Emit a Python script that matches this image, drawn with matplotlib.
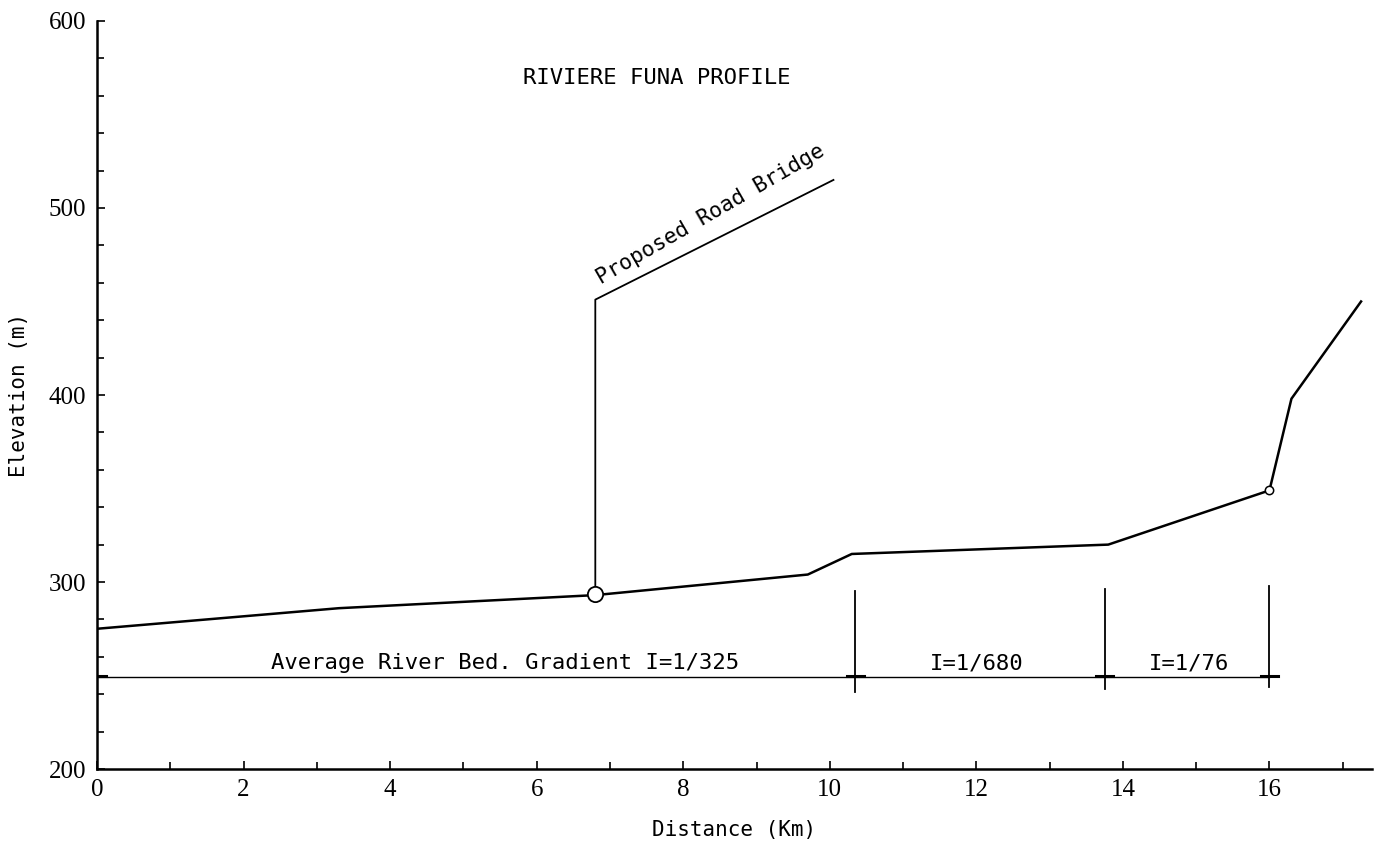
import matplotlib
matplotlib.use("Agg")
import matplotlib.pyplot as plt
from matplotlib.ticker import MultipleLocator

# river bed profile (km, m)
distance_km = [0.0, 3.3, 6.8, 9.7, 10.3, 13.8, 16.0, 16.3, 17.25]
elevation_m = [275, 286, 293, 304, 315, 320, 349, 398, 450]

# proposed bridge location and label leader
bridge_x = 6.8
bridge_y = 293.5
leader_x = [6.8, 6.8, 10.05]
leader_y = [293.5, 451, 515]

# gradient sections
baseline_y = 249
section_x = [0.0, 10.35, 13.75, 16.0]
divider_top = [295, 296, 298]
divider_bottom = [241, 243, 244]
section_labels = ["Average River Bed. Gradient I=1/325", "I=1/680", "I=1/76"]
label_x = [5.57, 12.0, 14.9]
label_y = 256.5

mono = "DejaVu Sans Mono"
serif = "Liberation Serif"

fig = plt.figure(figsize=(13.82, 8.56), dpi=100)
ax = fig.add_axes([0.0702, 0.1016, 0.9226, 0.8739])

ax.plot(distance_km, elevation_m, color="black", lw=1.8)
ax.plot(bridge_x, bridge_y, "o", mfc="white", mec="black", ms=11, mew=1.3, zorder=3)
ax.plot(distance_km[6], elevation_m[6], "o", mfc="white", mec="black", ms=6, mew=1.1, zorder=3)
ax.plot(leader_x, leader_y, color="black", lw=1.3)

ax.text(6.9, 457, "Proposed Road Bridge", rotation=30, rotation_mode="anchor",
        ha="left", va="bottom", fontsize=15.5, family=mono)

# gradient baseline and section dividers
ax.plot([section_x[0], section_x[-1]], [baseline_y, baseline_y], color="black", lw=1.0)
for x, top, bot in zip(section_x[1:], divider_top, divider_bottom):
    ax.plot([x, x], [bot, top], color="black", lw=1.3)
for x in section_x:
    ax.plot([x - 0.12, x + 0.12], [baseline_y + 0.5, baseline_y + 0.5], color="black", lw=2.2)
for x, lab in zip(label_x, section_labels):
    ax.text(x, label_y, lab, ha="center", va="center", fontsize=16, family=mono)

ax.text(7.64, 569.5, "RIVIERE FUNA PROFILE", ha="center", va="center", fontsize=16,
        family=mono)

ax.set_xlim(0, 17.4)
ax.set_ylim(200, 600)
ax.xaxis.set_major_locator(MultipleLocator(2))
ax.xaxis.set_minor_locator(MultipleLocator(1))
ax.yaxis.set_major_locator(MultipleLocator(100))
ax.yaxis.set_minor_locator(MultipleLocator(20))
ax.tick_params(which="both", direction="in", width=1.2)
ax.tick_params(which="major", length=6, labelsize=18)
ax.tick_params(which="minor", length=5)
ax.tick_params(axis="x", pad=7)
ax.tick_params(axis="y", pad=8)
for lab in ax.get_xticklabels() + ax.get_yticklabels():
    lab.set_family(serif)

for side in ["top", "right"]:
    ax.spines[side].set_visible(False)
for side in ["left", "bottom"]:
    ax.spines[side].set_linewidth(1.8)

ax.set_xlabel("Distance (Km)", fontsize=15, family=mono, labelpad=14)
ax.set_ylabel("Elevation (m)", fontsize=15, family=mono, labelpad=14)

fig.savefig("out.png", dpi=100)
